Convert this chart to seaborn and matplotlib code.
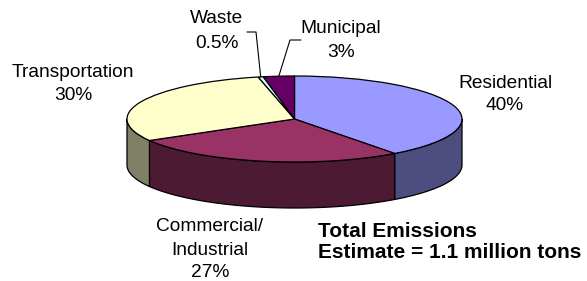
import numpy as np
import matplotlib
matplotlib.use("Agg")
import matplotlib.pyplot as plt
import seaborn as sns

# ---- data ----
categories = ["Residential", "Commercial/\nIndustrial", "Transportation", "Waste", "Municipal"]
values = [40, 27, 30, 0.5, 3]
pct_labels = ["40%", "27%", "30%", "0.5%", "3%"]
top_colors = ["#9999FF", "#993366", "#FFFFCC", "#CCFFFF", "#660066"]
side_colors = ["#4D4D80", "#4D1A33", "#808066", "#668080", "#330033"]
note_lines = ["Total Emissions", "Estimate = 1.1 million tons"]

sns.set_theme(style="white")
plt.rcParams["font.family"] = ["Liberation Sans", "DejaVu Sans"]

W, H = 587, 281
fig = plt.figure(figsize=(W / 100, H / 100), dpi=100)
ax = fig.add_axes([0, 0, 1, 1])

# pixel geometry of the (squashed) pie
CX, CY, RA, RB, DEPTH = 294.5, 119.0, 167.5, 43.0, 46.0
d = DEPTH / RB


def P(px, py):
    """pixel position -> data coords"""
    return (px - CX) / RA, (CY - py) / RB


# side walls (front half only)
vals = np.array(values, dtype=float)
fr = vals / vals.sum() * 360.0
starts = np.concatenate([[0], np.cumsum(fr)[:-1]])
for s, f, col in zip(starts, fr, side_colors):
    a0, a1 = max(s, 90.0), min(s + f, 270.0)
    if a1 <= a0:
        continue
    th = np.radians(np.linspace(a0, a1, 120))
    x = np.sin(th)
    y = np.cos(th)
    xs = np.concatenate([x, x[::-1]])
    ys = np.concatenate([y, y[::-1] - d])
    ax.fill(xs, ys, facecolor=col, edgecolor="black", linewidth=0.9, zorder=1,
            joinstyle="round")

# top face
ax.pie(values, colors=top_colors, startangle=90, counterclock=False,
       radius=1.0, wedgeprops=dict(edgecolor="black", linewidth=0.9, zorder=2))
ax.set_aspect("auto")
ax.set_xlim(-CX / RA, (W - CX) / RA)
ax.set_ylim((CY - H) / RB, CY / RB)
ax.axis("off")

FS = 13.8


def label(lines, px, baselines, **kw):
    for ln, b in zip(lines, baselines):
        x, y = P(px, b)
        ax.text(x, y, ln, ha="center", va="baseline", fontsize=FS,
                color="black", zorder=5, **kw)


label(categories[0].split("\n") + [pct_labels[0]], 505, [88, 110])
label(categories[1].split("\n") + [pct_labels[1]], 210, [231, 255, 277])
label(categories[2].split("\n") + [pct_labels[2]], 73, [77, 100])
label(categories[3].split("\n") + [pct_labels[3]], 217, [23, 48])
label(categories[4].split("\n") + [pct_labels[4]], 341, [33, 57])

# leader lines for the tiny slices
mids = starts + fr / 2
for i, (ex, hx) in zip([3, 4], [(256, 247), (290, 301)]):
    th = np.radians(mids[i])
    x0, y0 = np.sin(th), np.cos(th)
    ey = 32 if i == 3 else 40
    x1, y1 = P(ex, ey)
    x2, y2 = P(hx, ey)
    ax.plot([x0, x1, x2], [y0, y1, y2], color="black", linewidth=0.8, zorder=4)

for ln, b in zip(note_lines, [237, 258]):
    x, y = P(318, b)
    ax.text(x, y, ln, ha="left", va="baseline", fontsize=15,
            fontweight="bold", color="black", zorder=5)

fig.savefig("out.png", dpi=100)
